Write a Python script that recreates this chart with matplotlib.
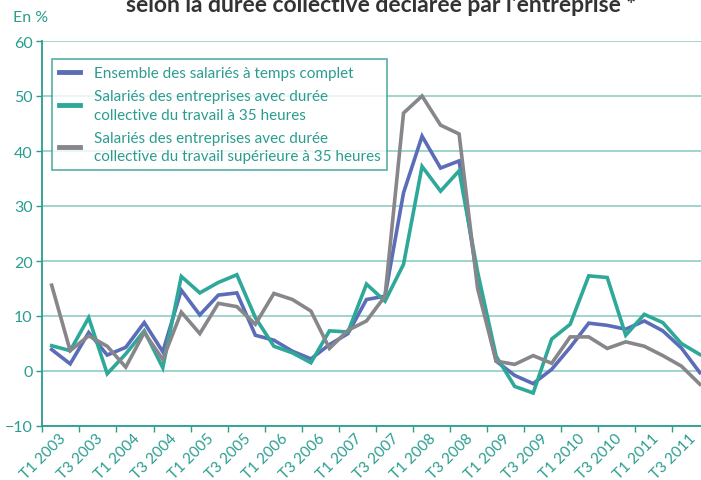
import numpy as np
import matplotlib.pyplot as plt
from matplotlib.transforms import ScaledTranslation

# trimestres T1 2003 .. T4 2011
periodes = [f"T{q} {a}" for a in range(2003, 2012) for q in range(1, 5)]
ensemble = [3.9, 1.3, 7.0, 2.9, 4.3, 8.8, 3.5, 14.7, 10.2, 13.8, 14.2, 6.5,
            5.6, 3.6, 2.2, 4.8, 6.8, 13.0, 13.6, 32.4, 42.7, 36.9, 38.2, 16.5,
            1.8, -0.8, -2.3, 0.3, 4.3, 8.7, 8.3, 7.6, 9.1, 7.3, 4.2, -0.3]
duree_35 = [4.6, 3.7, 9.7, -0.5, 3.1, 7.3, 0.6, 17.2, 14.2, 16.1, 17.5, 9.7,
            4.5, 3.3, 1.5, 7.3, 7.1, 15.8, 12.7, 19.4, 37.2, 32.7, 36.4, 18.0,
            2.7, -2.8, -4.0, 5.8, 8.5, 17.3, 17.0, 6.5, 10.3, 8.8, 5.0, 3.0]
duree_sup35 = [15.6, 3.7, 6.4, 4.5, 0.7, 7.0, 2.1, 10.7, 6.8, 12.3, 11.7, 8.5,
               14.1, 13.0, 10.9, 4.1, 7.4, 9.1, 13.6, 46.9, 50.0, 44.7, 43.1, 15.0,
               1.8, 1.2, 2.8, 1.4, 6.2, 6.2, 4.1, 5.3, 4.5, 2.8, 0.9, -2.4]
noms = ["Ensemble des salariés à temps complet",
        "Salariés des entreprises avec durée\ncollective du travail à 35 heures",
        "Salariés des entreprises avec durée\ncollective du travail supérieure à 35 heures"]
couleurs = ["#5B6DB8", "#2EA899", "#86868B"]

teal = "#2A9D8F"
grille = "#98D1C9"

plt.rcParams['font.family'] = ['Lato', 'DejaVu Sans']

fig = plt.figure(figsize=(7.01, 4.81), dpi=100)
ax = fig.add_axes([42.4 / 701, 54 / 481, 666.7 / 701, 385 / 481])

x = np.arange(len(periodes))
for serie, nom, c in zip([ensemble, duree_35, duree_sup35], noms, couleurs):
    ax.plot(x, serie, color=c, lw=2.6, label=nom, solid_joinstyle='miter')

ax.set_xlim(-0.5, len(periodes) - 0.5)
ax.set_ylim(-10, 60)
ax.set_yticks(range(-10, 61, 10))
ax.yaxis.grid(True, color=grille, lw=1.3)
ax.set_axisbelow(True)
for s in ['top', 'right']:
    ax.spines[s].set_visible(False)
for s in ['left', 'bottom']:
    ax.spines[s].set_color(teal)
    ax.spines[s].set_linewidth(1.3)

ax.tick_params(axis='y', colors=teal, labelcolor=teal, labelsize=11.5, length=4, width=1, pad=3)

# graduations entre les catégories, libellés un trimestre sur deux
ax.set_xticks(np.arange(-0.5, len(periodes), 2), minor=True)
ax.set_xticks(x[::2])
ax.set_xticklabels(periodes[::2], rotation=45, ha='right', va='center',
                   rotation_mode='anchor', color=teal, fontsize=11)
ax.tick_params(axis='x', which='major', length=0, pad=7)
ax.tick_params(axis='x', which='minor', length=4, width=1, color=teal)
for lab in ax.get_xticklabels():
    lab.set_transform(lab.get_transform() + ScaledTranslation(0.12, 0, fig.dpi_scale_trans))

leg = ax.legend(loc='upper left', bbox_to_anchor=(0.014, 0.953), borderaxespad=0,
                fontsize=11, frameon=True, fancybox=False, handlelength=1.4,
                handletextpad=0.9, labelspacing=0.6, borderpad=0.45)
leg.get_frame().set_edgecolor(teal)
leg.get_frame().set_linewidth(1.2)
for t in leg.get_texts():
    t.set_color(teal)
    t.set_linespacing(1.4)
for h in leg.get_lines():
    h.set_linewidth(3.5)

fig.text(13 / 701, 1 - 18 / 481, "En %", color=teal, fontsize=11.5, va='center', ha='left')
fig.text(381 / 701, 1 - 12 / 481, "selon la durée collective déclarée par l'entreprise *",
         color="#333333", fontsize=16.5, fontweight='bold', ha='center', va='baseline')

fig.savefig("out.png", dpi=100)
